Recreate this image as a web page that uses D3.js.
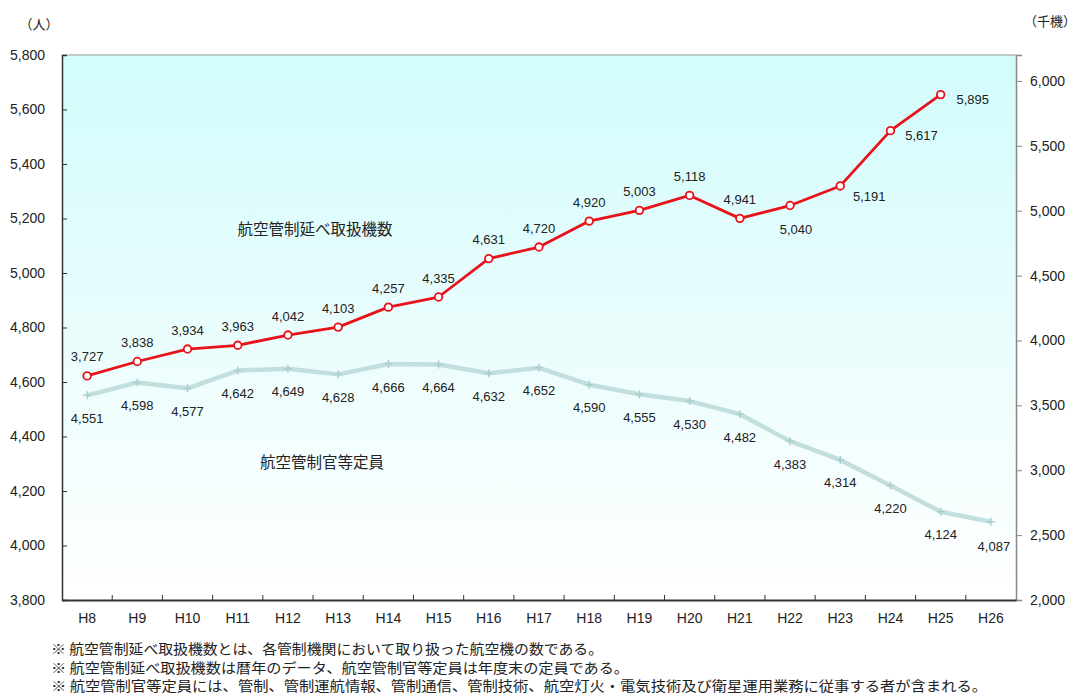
<!DOCTYPE html>
<html><head><meta charset="utf-8">
<script src="https://cdn.jsdelivr.net/npm/d3@7"></script>
<style>
html,body{margin:0;padding:0;background:#fff;}
svg{display:block;}
text{font-family:"Liberation Sans",Arial,sans-serif;fill:#222;}
.jp{font-family:"Noto Sans CJK JP","Liberation Sans",sans-serif;}
</style></head>
<body>
<svg id="c" width="1079" height="694"></svg>
<script>
const categories = ["H8","H9","H10","H11","H12","H13","H14","H15","H16","H17","H18","H19","H20","H21","H22","H23","H24","H25","H26"];
// 航空管制延べ取扱機数 (千機) - right axis, H8..H25
const flights = [3727,3838,3934,3963,4042,4103,4257,4335,4631,4720,4920,5003,5118,4941,5040,5191,5617,5895];
// 航空管制官等定員 (人) - left axis, H8..H26
const staff = [4551,4598,4577,4642,4649,4628,4666,4664,4632,4652,4590,4555,4530,4482,4383,4314,4220,4124,4087];
const leftTicks = [3800,4000,4200,4400,4600,4800,5000,5200,5400,5600,5800];
const rightTicks = [2000,2500,3000,3500,4000,4500,5000,5500,6000];
const flightsName = "航空管制延べ取扱機数";
const staffName = "航空管制官等定員";
const notes = [
  "※ 航空管制延べ取扱機数とは、各管制機関において取り扱った航空機の数である。",
  "※ 航空管制延べ取扱機数は暦年のデータ、航空管制官等定員は年度末の定員である。",
  "※ 航空管制官等定員には、管制、管制運航情報、管制通信、管制技術、航空灯火・電気技術及び衛星運用業務に従事する者が含まれる。"
];
// label offsets (styling)
const flightLabelOffsets = flights.map((d,i)=> i<14 ? [0,-19] : [0,0]);
flightLabelOffsets[14]=[6,24]; flightLabelOffsets[15]=[29,11]; flightLabelOffsets[16]=[31,5]; flightLabelOffsets[17]=[32,5];
const staffLabelOffsets = staff.map(()=>[0,23]);
staffLabelOffsets[18]=[3,25];

const svg = d3.select("#c");
const L=62, R=1016, T=55, B=600;
const x = d3.scaleBand().domain(categories).range([L,R]);
const yL = d3.scaleLinear().domain([3800,5800]).range([B,T]);
const yR = d3.scaleLinear().domain([2000,6200]).range([B,T]);

const defs = svg.append("defs");
const g = defs.append("linearGradient").attr("id","bg").attr("x1",0).attr("y1",0).attr("x2",0).attr("y2",1);
g.append("stop").attr("offset","0%").attr("stop-color","#d2fcfc");
g.append("stop").attr("offset","55%").attr("stop-color","#ecfdfd");
g.append("stop").attr("offset","100%").attr("stop-color","#ffffff");
svg.append("rect").attr("x",L).attr("y",T).attr("width",R-L).attr("height",B-T).attr("fill","url(#bg)");

// top border
svg.append("line").attr("x1",L).attr("x2",R).attr("y1",T).attr("y2",T).attr("stroke","#999").attr("stroke-width",1);
// right axis
const ra = svg.append("g").attr("transform",`translate(${R},0)`)
  .call(d3.axisRight(yR).tickValues(rightTicks).tickSize(6).tickFormat(d3.format(",")));
ra.select(".domain").attr("stroke","#888").attr("stroke-width",1.5);
ra.selectAll(".tick line").attr("stroke","#888");
ra.selectAll(".tick text").attr("x",14).attr("font-size",14).attr("fill","#222");
// left axis
const la = svg.append("g").attr("transform",`translate(${L},0)`)
  .call(d3.axisLeft(yL).tickValues(leftTicks).tickSize(-5).tickPadding(17).tickFormat(d3.format(",")));
la.select(".domain").attr("stroke","#333").attr("stroke-width",1.5);
la.selectAll(".tick line").attr("stroke","#333");
la.selectAll(".tick text").attr("font-size",14).attr("fill","#222");
// bottom axis
const ba = svg.append("g").attr("transform",`translate(0,${B})`)
  .call(d3.axisBottom(x).tickSize(0).tickPadding(13));
ba.select(".domain").attr("stroke","#333").attr("stroke-width",2);
ba.selectAll(".tick text").attr("font-size",14).attr("fill","#222");
svg.append("g").selectAll("line").data(categories.slice(1)).join("line")
  .attr("x1",d=>x(d)).attr("x2",d=>x(d)).attr("y1",B).attr("y2",B-5).attr("stroke","#333");

// staff line
const lineL = d3.line().x((d,i)=>x(categories[i])+x.bandwidth()/2).y(d=>yL(d));
svg.append("path").datum(staff).attr("d",lineL).attr("fill","none").attr("stroke","#c3dede").attr("stroke-width",4.5).attr("stroke-linejoin","round");
svg.append("g").selectAll("path").data(staff).join("path")
  .attr("d",(d,i)=>{const cx=x(categories[i])+x.bandwidth()/2, cy=yL(d);return `M${cx-4},${cy}H${cx+4}M${cx},${cy-4}V${cy+4}`;})
  .attr("stroke","#a9cfcf").attr("stroke-width",1.5);
svg.append("g").selectAll("text").data(staff).join("text")
  .attr("x",(d,i)=>x(categories[i])+x.bandwidth()/2+staffLabelOffsets[i][0])
  .attr("y",(d,i)=>yL(d)+staffLabelOffsets[i][1])
  .attr("text-anchor","middle").attr("dominant-baseline","central").attr("font-size",13)
  .text(d3.format(","));

// flights line
const lineR = d3.line().x((d,i)=>x(categories[i])+x.bandwidth()/2).y(d=>yR(d));
svg.append("path").datum(flights).attr("d",lineR).attr("fill","none").attr("stroke","#e8121b").attr("stroke-width",2.8).attr("stroke-linejoin","round");
svg.append("g").selectAll("circle").data(flights).join("circle")
  .attr("cx",(d,i)=>x(categories[i])+x.bandwidth()/2).attr("cy",d=>yR(d)).attr("r",3.8)
  .attr("fill","#fff").attr("stroke","#e8121b").attr("stroke-width",1.8);
svg.append("g").selectAll("text").data(flights).join("text")
  .attr("x",(d,i)=>x(categories[i])+x.bandwidth()/2+flightLabelOffsets[i][0])
  .attr("y",(d,i)=>yR(d)+flightLabelOffsets[i][1])
  .attr("text-anchor","middle").attr("dominant-baseline","central").attr("font-size",13)
  .text(d3.format(","));

// series names
svg.append("text").attr("class","jp").attr("x",315).attr("y",228).attr("text-anchor","middle").attr("dominant-baseline","central").attr("font-size",15.5).text(flightsName);
svg.append("text").attr("class","jp").attr("x",322).attr("y",461).attr("text-anchor","middle").attr("dominant-baseline","central").attr("font-size",15.5).text(staffName);

// units
svg.append("text").attr("class","jp").attr("x",39).attr("y",23).attr("text-anchor","middle").attr("dominant-baseline","central").attr("font-size",13).text("（人）");
svg.append("text").attr("class","jp").attr("x",1050).attr("y",20).attr("text-anchor","middle").attr("dominant-baseline","central").attr("font-size",13).text("（千機）");

// notes
svg.append("g").selectAll("text").data(notes).join("text").attr("class","jp")
  .attr("x",51).attr("y",(d,i)=>648+i*18.5).attr("dominant-baseline","central").attr("font-size",14)
  .attr("textLength",(d,i)=>[552,578,936][i]).attr("lengthAdjust","spacingAndGlyphs")
  .text(d=>d);
</script>
</body></html>
